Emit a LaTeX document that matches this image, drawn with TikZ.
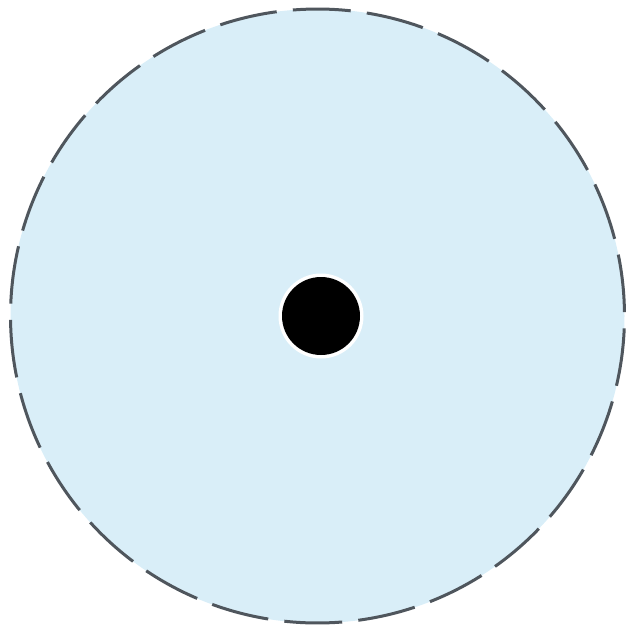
\documentclass[tikz,border=0pt]{standalone}
\begin{document}
\begin{tikzpicture}[x=1pt,y=-1pt,
  discfill/.style={fill=discblue},
  rim/.style={draw=rimgray, line width=3pt},
  halo/.style={fill=white},
  dot/.style={fill=black}]
\definecolor{discblue}{HTML}{D9EEF8}
\definecolor{rimgray}{HTML}{4F565D}
\useasboundingbox (0,0) rectangle (631,633);
\coordinate (c) at (317.5,316);
\coordinate (d) at (321,316);
\fill[discfill] (c) circle[radius=307];
\foreach \k in {0,...,25}{
  \pgfmathsetmacro{\a}{270.8+13.846*\k-5.41}
  \pgfmathsetmacro{\b}{270.8+13.846*\k+5.41}
  \draw[rim] (c) ++(\a:307) arc[start angle=\a, end angle=\b, radius=307];
}
\fill[halo] (d) circle[radius=42.5];
\fill[dot] (d) circle[radius=39];
\end{tikzpicture}
\end{document}
